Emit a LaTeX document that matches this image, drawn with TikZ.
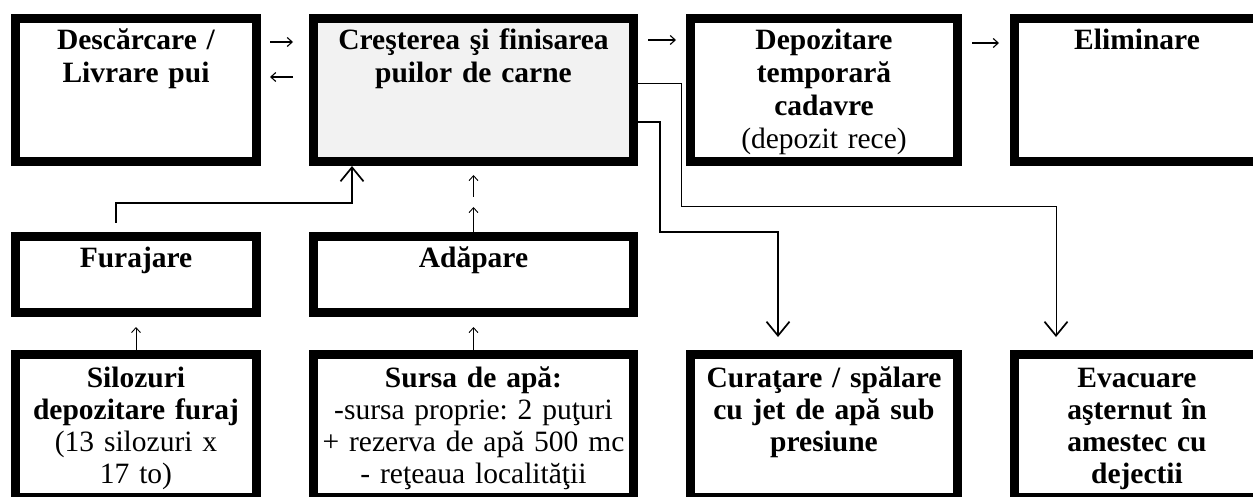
\documentclass[tikz,border=0pt]{standalone}
\usepackage{fontspec}
\setmainfont{Liberation Serif}
\frenchspacing
\usetikzlibrary{positioning, arrows.meta}

\begin{document}
\begin{tikzpicture}[x=1pt, y=1pt, node distance=48pt]
        \tikzset{
            % Define style for boxes
            cutie/.style={
                    rectangle,
                    draw=black, line width=9pt,
                    outer sep=4.5pt, inner sep=0pt,
                    align=center,
                    font=\fontsize{29.5}{33}\selectfont\bfseries,
                    text height=31.5pt},
            mare/.style={cutie, text depth=111.5pt},
            mica/.style={cutie, text depth=44.5pt},
            jos/.style={cutie, text height=32.5pt, text depth=110.5pt,
                    font=\fontsize{29.5}{32}\selectfont\bfseries},
            % Define arrow styles
            sag/.style={-{Straight Barb[length=5pt, width=9pt]}, line width=1.1pt},
            sagmare/.style={-{Straight Barb[length=14pt, width=23pt, line width=1.7pt]}},
        }
        \useasboundingbox (0,0) rectangle (1253,-497);
        \clip (0,0) rectangle (1253,-497);

        % Draw the top row
        \node[mare, text width=241pt, anchor=north west] (descarc) at (11,-14)
            {Descărcare /\\Livrare pui};
        \node[mare, text width=320pt, fill=gray!10, right=of descarc] (crest)
            {Creşterea şi finisarea\\puilor de carne};
        \node[mare, text width=267pt, right=of crest] (depoz)
            {Depozitare\\temporară\\cadavre\\{\mdseries(depozit rece)}};
        \node[mare, text width=245pt, right=of depoz] (elim) {Eliminare};

        % Middle row
        \node[mica, text width=241pt, below=66pt of descarc] (furaj) {Furajare};
        \node[mica, text width=320pt, below=66pt of crest] (adap) {Adăpare};

        % Bottom row
        \node[jos, text width=241pt, below=33pt of furaj] (silo)
            {Silozuri\\depozitare furaj\\{\mdseries(13 silozuri x}\\{\mdseries17 to)}};
        \node[jos, text width=320pt, below=33pt of adap] (sursa)
            {Sursa de apă:\\{\mdseries-sursa proprie: 2 puţuri}\\{\mdseries+ rezerva de apă 500 mc}\\{\mdseries- reţeaua localităţii}};
        \node[jos, text width=267pt, below=184pt of depoz] (curat)
            {Curaţare / spălare\\cu jet de apă sub\\presiune};
        \node[jos, text width=245pt, below=184pt of elim] (evac)
            {Evacuare\\aşternut în\\amestec cu\\dejectii};

        % Arrows between the top boxes
        \draw[sag, shorten <=9pt, shorten >=16pt] (descarc.east |- 0,-42) -- (crest.west |- 0,-42);
        \draw[sag, shorten <=16pt, shorten >=9pt] (crest.west |- 0,-77) -- (descarc.east |- 0,-77);
        \draw[sag, shorten <=10pt, shorten >=10pt] (crest.east |- 0,-40) -- (depoz.west |- 0,-40);
        \draw[sag, shorten <=10pt, shorten >=11pt] (depoz.east |- 0,-43) -- (elim.west |- 0,-43);

        % Supply arrows
        \draw[sag, line width=0.9pt, shorten >=10pt] (silo.north) -- (furaj.south);
        \draw[sag, line width=0.9pt, shorten >=10pt] (sursa.north) -- (adap.south);
        \draw[sag, line width=0.9pt, shorten >=41pt] (adap.north) -- (crest.south);
        \draw[sag, line width=0.9pt, shorten <=35pt, shorten >=9pt] (adap.north) -- (crest.south);
        \draw[sagmare, line width=1.6pt, shorten <=9pt]
            ([xshift=-20pt]furaj.north) -- ++(0,29) -| ([xshift=-121.5pt]crest.south);

        % Outputs of the hall
        \draw[sagmare, line width=0.9pt, shorten >=13pt]
            ([yshift=7pt]crest.east) -- ++(43,0) -- ++(0,-123) -| ([xshift=-81pt]evac.north);
        \draw[sagmare, line width=1.8pt, shorten >=13pt]
            ([yshift=-32pt]crest.east) -- ++(22,0) -- ++(0,-110) -| ([xshift=-46pt]curat.north);

    \end{tikzpicture}
\end{document}
